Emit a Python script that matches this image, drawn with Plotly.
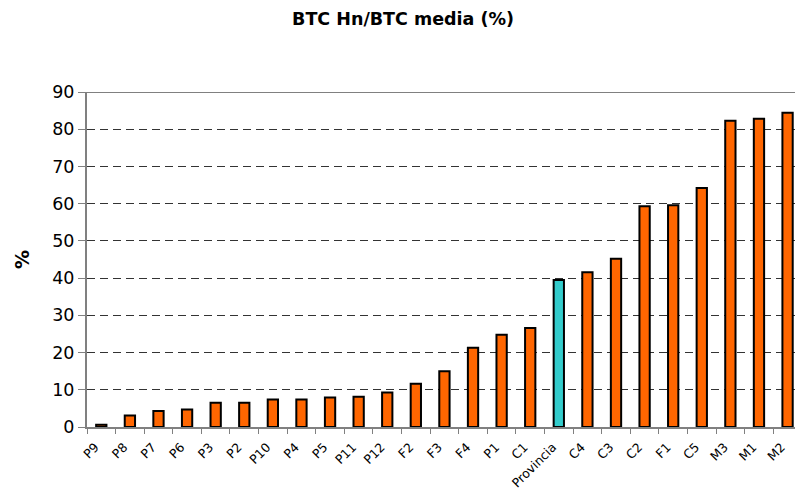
import plotly.graph_objects as go

# Ratio of BTC Hn to average BTC, by area, sorted ascending
categories = ["P9", "P8", "P7", "P6", "P3", "P2", "P10", "P4", "P5", "P11", "P12",
              "F2", "F3", "F4", "P1", "C1", "Provincia", "C4", "C3", "C2", "F1",
              "C5", "M3", "M1", "M2"]
values = [0.6, 3.1, 4.3, 4.7, 6.5, 6.5, 7.4, 7.4, 7.9, 8.1, 9.3,
          11.6, 15.0, 21.3, 24.8, 26.6, 39.5, 41.6, 45.2, 59.3, 59.6,
          64.2, 82.3, 82.8, 84.4]
highlight = "Provincia"
y_ticks = [0, 10, 20, 30, 40, 50, 60, 70, 80, 90]

ORANGE = "#FF6600"
TEAL = "#33CCCC"
FONT = "DejaVu Sans, Liberation Sans, Arial, sans-serif"
colors = [TEAL if c == highlight else ORANGE for c in categories]

fig = go.Figure(
    go.Bar(
        x=categories,
        y=values,
        marker=dict(color=colors, line=dict(color="black", width=2)),
        width=0.36,
    )
)

fig.update_layout(
    width=795,
    height=491,
    margin=dict(l=87, r=0, t=92, b=64),
    paper_bgcolor="white",
    plot_bgcolor="white",
    showlegend=False,
    title=dict(
        text="<b>BTC Hn/BTC media (%)</b>",
        x=0.507, xanchor="center", y=0.962, yanchor="middle",
        font=dict(family=FONT, size=17.5, color="black"),
    ),
    font=dict(family=FONT, color="black"),
)

fig.update_xaxes(
    type="category",
    range=[-0.5, 24.26],
    automargin=False,
    tickangle=-45,
    tickfont=dict(size=12.5, color="black"),
    ticks="outside",
    tickson="boundaries",
    ticklen=5,
    tickcolor="#808080",
    ticklabelstandoff=6,
    ticklabelshift=-6,
    showline=True,
    linecolor="#808080",
    linewidth=2,
    showgrid=False,
)

fig.update_yaxes(
    range=[0, 90],
    automargin=False,
    tickvals=y_ticks,
    tickfont=dict(size=17.5, color="black"),
    ticks="outside",
    ticklen=7,
    tickcolor="#808080",
    showline=True,
    linecolor="#808080",
    linewidth=2,
    showgrid=True,
    gridcolor="#333333",
    gridwidth=1,
    griddash="8px,5px",
    zeroline=False,
    title=dict(text="<b>%</b>", font=dict(size=19, color="black"), standoff=18),
)

# Top border of the plot area
fig.add_shape(
    type="line", xref="paper", yref="y", x0=0, x1=1, y0=90, y1=90,
    line=dict(color="#808080", width=2), layer="above",
)

fig.write_html("out.html")
